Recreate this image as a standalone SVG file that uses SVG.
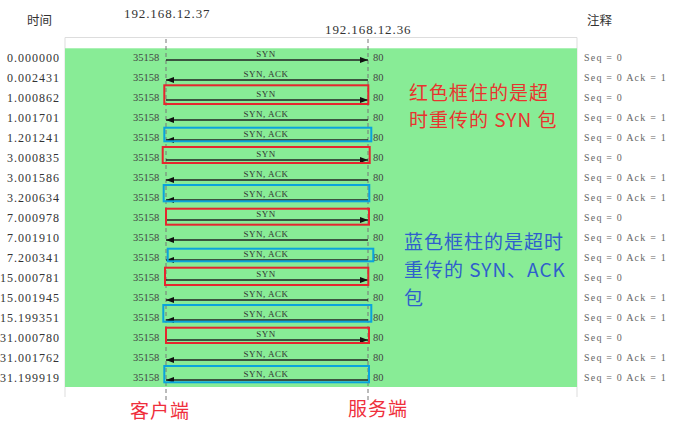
<svg xmlns="http://www.w3.org/2000/svg" width="673" height="422" viewBox="0 0 673 422">
<defs>
<style>
.serif{font-family:"Liberation Serif","Noto Sans CJK SC",serif;}
.time{font-size:12px;fill:#333;text-anchor:end;letter-spacing:1px;}
.hdr{font-size:12.5px;fill:#333;}
.ip{font-size:13px;fill:#333;letter-spacing:0.9px;}
.port{font-size:10.5px;fill:#444;}
.lbl{font-size:9px;fill:#333;text-anchor:middle;letter-spacing:0.5px;}
.seq{font-size:10px;fill:#666;letter-spacing:1.2px;}
.arr{stroke:#222;stroke-width:1.4;fill:none;marker-end:url(#ah);}
.life{stroke:#777;stroke-width:1;stroke-dasharray:4,3;}
.red{fill:none;stroke:#e5262e;stroke-width:2;}
.blue{fill:none;stroke:#0aa3dc;stroke-width:2;}
.cjk{font-family:"Noto Sans CJK SC",sans-serif;font-size:19px;letter-spacing:1px;}
</style>
<marker id="ah" viewBox="0 0 8 6" refX="8" refY="3" markerWidth="8" markerHeight="6" markerUnits="userSpaceOnUse" orient="auto">
<path d="M0,0 L8,3 L0,6 z" fill="#111"/>
</marker>
</defs>
<rect width="673" height="422" fill="#fff"/>
<g id="frame">
<path d="M65,397 V37.5 H577 V397" fill="none" stroke="#ddd" stroke-width="1"/>
<rect x="65" y="48.3" width="512" height="338.7" fill="#88ec96"/>
<line class="life" x1="166" y1="39" x2="166" y2="400"/>
<line class="life" x1="368" y1="39" x2="368" y2="400"/>
</g>
<g id="header" class="serif">
<text class="hdr" x="27" y="24.5">时间</text>
<text class="hdr" x="587" y="24.5">注释</text>
<text class="ip" x="124" y="18">192.168.12.37</text>
<text class="ip" x="325" y="34">192.168.12.36</text>
</g>
<g id="rows" class="serif">
<g id="row-0"><text class="time" x="60" y="61.5">0.000000</text><text class="port" x="133" y="61">35158</text><text class="port" x="373" y="61">80</text><text class="lbl" x="266" y="56.5">SYN</text><text class="seq" x="584" y="61">Seq = 0</text></g>
<g id="row-1"><text class="time" x="60" y="81.5">0.002431</text><text class="port" x="133" y="81">35158</text><text class="port" x="373" y="81">80</text><text class="lbl" x="266" y="76.5">SYN, ACK</text><text class="seq" x="584" y="81">Seq = 0 Ack = 1</text></g>
<g id="row-2"><text class="time" x="60" y="101.5">1.000862</text><text class="port" x="133" y="101">35158</text><text class="port" x="373" y="101">80</text><text class="lbl" x="266" y="96.5">SYN</text><text class="seq" x="584" y="101">Seq = 0</text></g>
<g id="row-3"><text class="time" x="60" y="121.5">1.001701</text><text class="port" x="133" y="121">35158</text><text class="port" x="373" y="121">80</text><text class="lbl" x="266" y="116.5">SYN, ACK</text><text class="seq" x="584" y="121">Seq = 0 Ack = 1</text></g>
<g id="row-4"><text class="time" x="60" y="141.5">1.201241</text><text class="port" x="133" y="141">35158</text><text class="port" x="373" y="141">80</text><text class="lbl" x="266" y="136.5">SYN, ACK</text><text class="seq" x="584" y="141">Seq = 0 Ack = 1</text></g>
<g id="row-5"><text class="time" x="60" y="161.5">3.000835</text><text class="port" x="133" y="161">35158</text><text class="port" x="373" y="161">80</text><text class="lbl" x="266" y="156.5">SYN</text><text class="seq" x="584" y="161">Seq = 0</text></g>
<g id="row-6"><text class="time" x="60" y="181.5">3.001586</text><text class="port" x="133" y="181">35158</text><text class="port" x="373" y="181">80</text><text class="lbl" x="266" y="176.5">SYN, ACK</text><text class="seq" x="584" y="181">Seq = 0 Ack = 1</text></g>
<g id="row-7"><text class="time" x="60" y="201.5">3.200634</text><text class="port" x="133" y="201">35158</text><text class="port" x="373" y="201">80</text><text class="lbl" x="266" y="196.5">SYN, ACK</text><text class="seq" x="584" y="201">Seq = 0 Ack = 1</text></g>
<g id="row-8"><text class="time" x="60" y="221.5">7.000978</text><text class="port" x="133" y="221">35158</text><text class="port" x="373" y="221">80</text><text class="lbl" x="266" y="216.5">SYN</text><text class="seq" x="584" y="221">Seq = 0</text></g>
<g id="row-9"><text class="time" x="60" y="241.5">7.001910</text><text class="port" x="133" y="241">35158</text><text class="port" x="373" y="241">80</text><text class="lbl" x="266" y="236.5">SYN, ACK</text><text class="seq" x="584" y="241">Seq = 0 Ack = 1</text></g>
<g id="row-10"><text class="time" x="60" y="261.5">7.200341</text><text class="port" x="133" y="261">35158</text><text class="port" x="373" y="261">80</text><text class="lbl" x="266" y="256.5">SYN, ACK</text><text class="seq" x="584" y="261">Seq = 0 Ack = 1</text></g>
<g id="row-11"><text class="time" x="60" y="281.5">15.000781</text><text class="port" x="133" y="281">35158</text><text class="port" x="373" y="281">80</text><text class="lbl" x="266" y="276.5">SYN</text><text class="seq" x="584" y="281">Seq = 0</text></g>
<g id="row-12"><text class="time" x="60" y="301.5">15.001945</text><text class="port" x="133" y="301">35158</text><text class="port" x="373" y="301">80</text><text class="lbl" x="266" y="296.5">SYN, ACK</text><text class="seq" x="584" y="301">Seq = 0 Ack = 1</text></g>
<g id="row-13"><text class="time" x="60" y="321.5">15.199351</text><text class="port" x="133" y="321">35158</text><text class="port" x="373" y="321">80</text><text class="lbl" x="266" y="316.5">SYN, ACK</text><text class="seq" x="584" y="321">Seq = 0 Ack = 1</text></g>
<g id="row-14"><text class="time" x="60" y="341.5">31.000780</text><text class="port" x="133" y="341">35158</text><text class="port" x="373" y="341">80</text><text class="lbl" x="266" y="336.5">SYN</text><text class="seq" x="584" y="341">Seq = 0</text></g>
<g id="row-15"><text class="time" x="60" y="361.5">31.001762</text><text class="port" x="133" y="361">35158</text><text class="port" x="373" y="361">80</text><text class="lbl" x="266" y="356.5">SYN, ACK</text><text class="seq" x="584" y="361">Seq = 0 Ack = 1</text></g>
<g id="row-16"><text class="time" x="60" y="381.5">31.199919</text><text class="port" x="133" y="381">35158</text><text class="port" x="373" y="381">80</text><text class="lbl" x="266" y="376.5">SYN, ACK</text><text class="seq" x="584" y="381">Seq = 0 Ack = 1</text></g>
</g>
<g id="connectors">
<path class="arr" d="M166,60 H368"/>
<path class="arr" d="M368,80 H166"/>
<path class="arr" d="M166,100 H368"/>
<path class="arr" d="M368,120 H166"/>
<path class="arr" d="M368,140 H166"/>
<path class="arr" d="M166,160 H368"/>
<path class="arr" d="M368,180 H166"/>
<path class="arr" d="M368,200 H166"/>
<path class="arr" d="M166,220 H368"/>
<path class="arr" d="M368,240 H166"/>
<path class="arr" d="M368,260 H166"/>
<path class="arr" d="M166,280 H368"/>
<path class="arr" d="M368,300 H166"/>
<path class="arr" d="M368,320 H166"/>
<path class="arr" d="M166,340 H368"/>
<path class="arr" d="M368,360 H166"/>
<path class="arr" d="M368,380 H166"/>
</g>
<g id="highlights">
<rect class="red" x="164.3" y="85.3" width="204" height="18.7"/>
<rect class="blue" x="164.3" y="127.7" width="207" height="13.6"/>
<rect class="red" x="162.7" y="147" width="207" height="16"/>
<rect class="blue" x="163.7" y="185" width="205.6" height="16.3"/>
<rect class="red" x="166" y="208.7" width="203" height="16"/>
<rect class="blue" x="167.7" y="248.7" width="205.6" height="12.6"/>
<rect class="red" x="165" y="267.7" width="203.3" height="17.3"/>
<rect class="blue" x="163.3" y="305" width="208" height="16.7"/>
<rect class="red" x="166" y="327.7" width="203" height="15.3"/>
<rect class="blue" x="164.3" y="366" width="204.7" height="16.3"/>
</g>
<g id="notes" class="cjk">
<text x="409" y="100" fill="#e8342f">红色框住的是超</text>
<text x="409" y="127" fill="#e8342f">时重传的 SYN 包</text>
<text x="404" y="248.5" fill="#2f5fcc">蓝色框柱的是超时</text>
<text x="404" y="277" fill="#2f5fcc">重传的 SYN、ACK</text>
<text x="404" y="305" fill="#2f5fcc">包</text>
<text x="130" y="418" fill="#ef2f3c">客户端</text>
<text x="348" y="416" fill="#ef2f3c">服务端</text>
</g>
</svg>
